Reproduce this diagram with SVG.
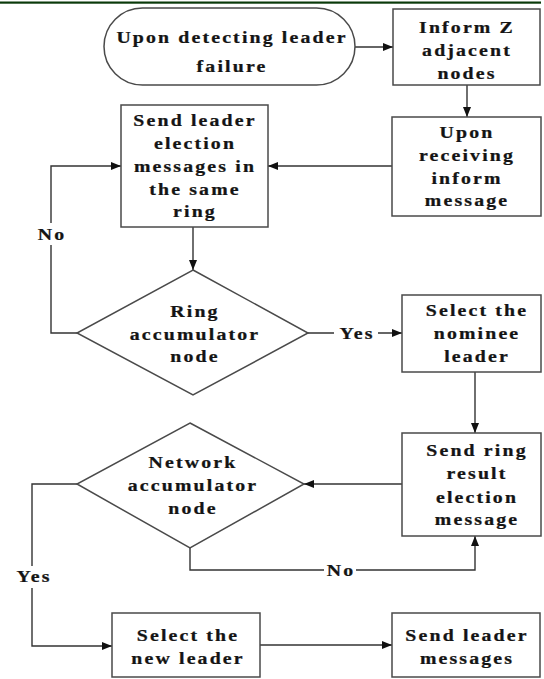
<svg xmlns="http://www.w3.org/2000/svg" width="544" height="679" viewBox="0 0 544 679">
  <style>
    .shape { fill: #ffffff; stroke: #4a4a4a; stroke-width: 1.5; }
    .conn { fill: none; stroke: #333333; stroke-width: 1.4; }
    .t { font-family: "Liberation Serif", "Times New Roman", serif; font-weight: bold; font-size: 16.5px; letter-spacing: 1.8px; fill: #141414; stroke: #141414; stroke-width: 0.25; text-anchor: middle; }
    .lbl-bg { fill: #ffffff; }
  </style>
  <defs>
    <marker id="arrow" viewBox="0 0 10 8" refX="10" refY="4" markerWidth="10" markerHeight="8" markerUnits="userSpaceOnUse" orient="auto">
      <path d="M0,0 L10,4 L0,8 z" fill="#111111"/>
    </marker>
  </defs>

  <rect width="544" height="679" fill="#ffffff"/>
  <!-- header rule -->
  <rect x="0" y="1.5" width="541" height="2.2" fill="#0a3a0a"/>

  <!-- connectors -->
  <g id="connectors">
    <path class="conn" d="M355,47 H393" marker-end="url(#arrow)"/>
    <path class="conn" d="M467,85 V117" marker-end="url(#arrow)"/>
    <path class="conn" d="M392,166 H268" marker-end="url(#arrow)"/>
    <path class="conn" d="M193,227 V270" marker-end="url(#arrow)"/>
    <path class="conn" d="M77,333 H51 V166 H121" marker-end="url(#arrow)"/>
    <path class="conn" d="M308,333 H402" marker-end="url(#arrow)"/>
    <path class="conn" d="M475,372 V433" marker-end="url(#arrow)"/>
    <path class="conn" d="M402,484 H304" marker-end="url(#arrow)"/>
    <path class="conn" d="M190,548 V570 H475 V536" marker-end="url(#arrow)"/>
    <path class="conn" d="M77,484 H32 V646 H112" marker-end="url(#arrow)"/>
    <path class="conn" d="M260,645 H392" marker-end="url(#arrow)"/>

    <!-- branch labels -->
    <rect class="lbl-bg" x="36" y="223" width="30" height="22"/>
    <text class="t" transform="translate(52,240) scale(1.2,1)">No</text>
    <rect class="lbl-bg" x="334" y="324" width="44" height="18"/>
    <text class="t" transform="translate(357,339) scale(1.2,1)">Yes</text>
    <rect class="lbl-bg" x="324" y="561" width="32" height="18"/>
    <text class="t" transform="translate(341,576) scale(1.2,1)">No</text>
    <rect class="lbl-bg" x="10" y="566" width="46" height="22"/>
    <text class="t" transform="translate(34,582) scale(1.2,1)">Yes</text>
  </g>

  <g id="start">
    <rect class="shape" x="104" y="8" width="251" height="77" rx="38.5" ry="38.5"/>
    <text class="t" transform="translate(232,43) scale(1.2,1)">Upon detecting leader</text>
    <text class="t" transform="translate(232,72) scale(1.2,1)">failure</text>
  </g>

  <g id="inform">
    <rect class="shape" x="393" y="9" width="147" height="76"/>
    <text class="t" transform="translate(467,33) scale(1.2,1)">Inform Z</text>
    <text class="t" transform="translate(467,56) scale(1.2,1)">adjacent</text>
    <text class="t" transform="translate(467,79) scale(1.2,1)">nodes</text>
  </g>

  <g id="receive">
    <rect class="shape" x="392" y="117" width="149" height="99"/>
    <text class="t" transform="translate(467,138) scale(1.2,1)">Upon</text>
    <text class="t" transform="translate(467,161) scale(1.2,1)">receiving</text>
    <text class="t" transform="translate(467,184) scale(1.2,1)">inform</text>
    <text class="t" transform="translate(467,206) scale(1.2,1)">message</text>
  </g>

  <g id="send-election">
    <rect class="shape" x="121" y="105" width="147" height="122"/>
    <text class="t" transform="translate(195,126) scale(1.2,1)">Send leader</text>
    <text class="t" transform="translate(195,149) scale(1.2,1)">election</text>
    <text class="t" transform="translate(195,172) scale(1.2,1)">messages in</text>
    <text class="t" transform="translate(195,195) scale(1.2,1)">the same</text>
    <text class="t" transform="translate(195,217) scale(1.2,1)">ring</text>
  </g>

  <g id="ring-decision">
    <polygon class="shape" points="193,270 308,333 193,395 77,333"/>
    <text class="t" transform="translate(195,317) scale(1.2,1)">Ring</text>
    <text class="t" transform="translate(195,340) scale(1.2,1)">accumulator</text>
    <text class="t" transform="translate(195,362) scale(1.2,1)">node</text>
  </g>

  <g id="nominee">
    <rect class="shape" x="402" y="295" width="139" height="77"/>
    <text class="t" transform="translate(477,316) scale(1.2,1)">Select the</text>
    <text class="t" transform="translate(477,339) scale(1.2,1)">nominee</text>
    <text class="t" transform="translate(477,362) scale(1.2,1)">leader</text>
  </g>

  <g id="ring-result">
    <rect class="shape" x="402" y="433" width="139" height="103"/>
    <text class="t" transform="translate(477,456) scale(1.2,1)">Send ring</text>
    <text class="t" transform="translate(477,479) scale(1.2,1)">result</text>
    <text class="t" transform="translate(477,503) scale(1.2,1)">election</text>
    <text class="t" transform="translate(477,525) scale(1.2,1)">message</text>
  </g>

  <g id="network-decision">
    <polygon class="shape" points="190,423 304,484 190,548 77,484"/>
    <text class="t" transform="translate(193,468) scale(1.2,1)">Network</text>
    <text class="t" transform="translate(193,491) scale(1.2,1)">accumulator</text>
    <text class="t" transform="translate(193,514) scale(1.2,1)">node</text>
  </g>

  <g id="new-leader">
    <rect class="shape" x="112" y="613" width="148" height="64"/>
    <text class="t" transform="translate(188,641) scale(1.2,1)">Select the</text>
    <text class="t" transform="translate(188,664) scale(1.2,1)">new leader</text>
  </g>

  <g id="announce">
    <rect class="shape" x="392" y="613" width="148" height="64"/>
    <text class="t" transform="translate(467,641) scale(1.2,1)">Send leader</text>
    <text class="t" transform="translate(467,664) scale(1.2,1)">messages</text>
  </g>
</svg>
